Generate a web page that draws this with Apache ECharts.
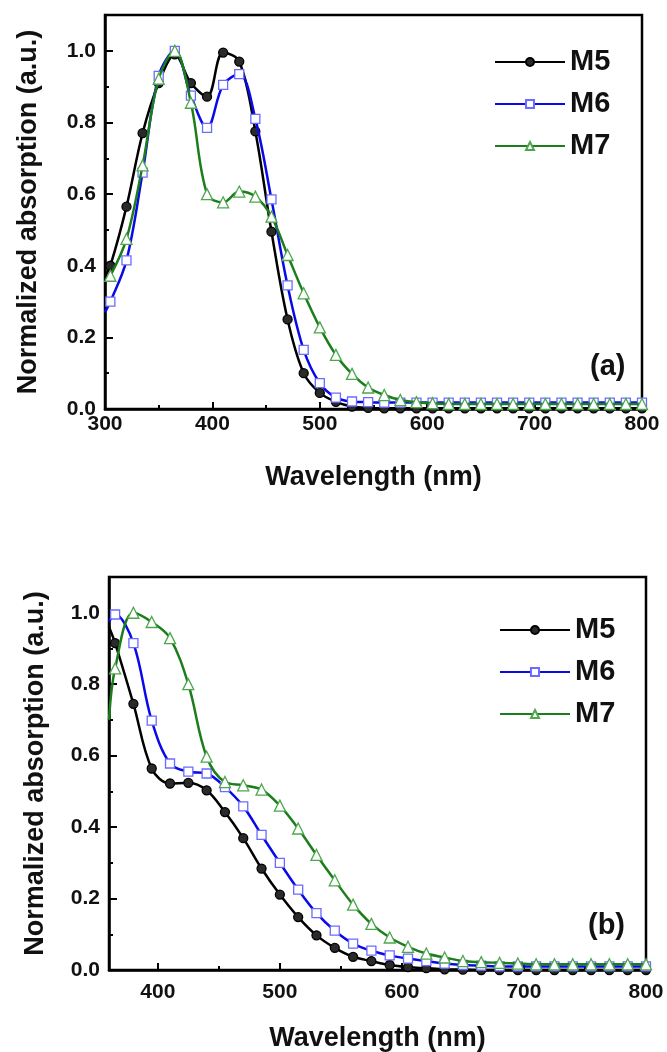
<!DOCTYPE html>
<html>
<head>
<meta charset="utf-8">
<script src="https://cdn.jsdelivr.net/npm/echarts@6/dist/echarts.min.js"></script>
<style>
html,body{margin:0;padding:0;background:#fff;}
#main{width:667px;height:1052px;}
</style>
</head>
<body>
<div id="main"></div>
<script>
// ---------- DATA ----------
const seriesNames = ['M5', 'M6', 'M7'];
const xTicks = [300, 400, 500, 600, 700, 800];
const xTicksB = [400, 500, 600, 700, 800];
const xMinorA = [350, 450, 550, 650, 750];
const xMinorB = [450, 550, 650, 750];
const yTicks = [0, 0.2, 0.4, 0.6, 0.8, 1.0];
const yMinor = [0.1, 0.3, 0.5, 0.7, 0.9];

// (a) wavelengths
const wlA = [300, 305, 320, 335, 350, 365, 380, 395, 410, 425, 440, 455, 470, 485, 500, 515, 530, 545,
  560, 575, 590, 605, 620, 635, 650, 665, 680, 695, 710, 725, 740, 755, 770, 785, 800];
const m5A = [0.37, 0.40, 0.565, 0.77, 0.91, 0.99, 0.91, 0.872, 0.995, 0.97, 0.775, 0.495, 0.25, 0.10, 0.045, 0.02, 0.007, 0.003,
  0.002, 0.002, 0.002, 0.002, 0.002, 0.002, 0.002, 0.002, 0.002, 0.002, 0.002, 0.002, 0.002, 0.002, 0.002, 0.002, 0.002];
const m6A = [0.27, 0.30, 0.415, 0.66, 0.93, 1.0, 0.875, 0.785, 0.905, 0.935, 0.81, 0.585, 0.345, 0.165, 0.072, 0.032, 0.021, 0.019,
  0.018, 0.018, 0.018, 0.018, 0.018, 0.018, 0.018, 0.018, 0.018, 0.018, 0.018, 0.018, 0.018, 0.018, 0.018, 0.018, 0.018];
const m7A = [0.36, 0.372, 0.475, 0.68, 0.922, 1.0, 0.855, 0.60, 0.577, 0.607, 0.593, 0.537, 0.43, 0.323, 0.228, 0.151, 0.098, 0.06,
  0.039, 0.025, 0.019, 0.016, 0.014, 0.014, 0.014, 0.014, 0.014, 0.014, 0.014, 0.014, 0.014, 0.014, 0.014, 0.014, 0.014];

// (b) wavelengths
const wlB = [360, 365, 380, 395, 410, 425, 440, 455, 470, 485, 500, 515, 530, 545, 560, 575, 590, 605, 620, 635,
  650, 665, 680, 695, 710, 725, 740, 755, 770, 785, 800];
const m5B = [0.96, 0.915, 0.745, 0.564, 0.522, 0.524, 0.503, 0.442, 0.369, 0.284, 0.211, 0.148, 0.097, 0.062, 0.037, 0.025, 0.014, 0.008, 0.005, 0.002,
  0.001, 0.0, 0.0, 0.0, 0.0, 0.0, 0.0, 0.0, 0.0, 0.0, 0.0];
const m6B = [0.975, 0.995, 0.915, 0.698, 0.578, 0.555, 0.55, 0.512, 0.458, 0.378, 0.30, 0.225, 0.159, 0.11, 0.074, 0.054, 0.041, 0.032, 0.025, 0.018,
  0.014, 0.012, 0.01, 0.01, 0.01, 0.01, 0.01, 0.01, 0.01, 0.01, 0.01];
const m7B = [0.70, 0.844, 1.0, 0.974, 0.929, 0.80, 0.597, 0.526, 0.517, 0.505, 0.46, 0.396, 0.322, 0.251, 0.183, 0.129, 0.091, 0.065, 0.046, 0.035,
  0.025, 0.022, 0.02, 0.018, 0.016, 0.016, 0.016, 0.016, 0.016, 0.016, 0.016];

// ---------- STYLE ----------
const FONT = 'Liberation Sans, Arial, sans-serif';
const styles = [
  { line: '#000000', symbol: 'circle', fill: '#2a2a2a', border: '#000000', size: 9 },
  { line: '#0a0ae8', symbol: 'rect', fill: '#ffffff', border: '#6b6bff', size: 9 },
  { line: '#1b7d1b', symbol: 'triangle', fill: '#ffffff', border: '#4ea64e', size: 11 }
];

function pts(wl, vals) {
  return wl.map((w, i) => i === 0 ? { value: [w, vals[i]], symbol: 'none' } : [w, vals[i]]);
}
function mkSeries(name, idx, wl, vals, gi) {
  const s = styles[idx];
  return {
    name: name, type: 'line', xAxisIndex: gi * 2, yAxisIndex: gi * 2,
    data: pts(wl, vals), smooth: 0.35, showAllSymbol: true,
    symbol: s.symbol, symbolSize: s.size, clip: true,
    lineStyle: { color: s.line, width: 2.5 },
    itemStyle: { color: s.fill, borderColor: s.border, borderWidth: 1.3 },
    z: 3 + idx, emphasis: { disabled: true }, animation: false
  };
}

function mainX(gi, min, ticks, margin) {
  return {
    type: 'value', gridIndex: gi, min: min, max: 800, position: 'bottom',
    name: 'Wavelength (nm)', nameLocation: 'middle', nameGap: 55,
    nameTextStyle: { fontFamily: FONT, fontWeight: 'bold', fontSize: 27, color: '#111' },
    axisLine: { show: true, onZero: false, lineStyle: { color: '#000', width: 2.5 } },
    axisTick: { show: true, inside: true, length: 7, customValues: ticks, lineStyle: { color: '#000', width: 2 } },
    axisLabel: { show: true, customValues: ticks, margin: margin, fontFamily: FONT, fontWeight: 'bold', fontSize: 21, color: '#111',
      formatter: v => String(Math.round(v)) },
    splitLine: { show: false }
  };
}
function minorX(gi, min, ticks) {
  return {
    type: 'value', gridIndex: gi, min: min, max: 800, position: 'bottom',
    axisLine: { show: false, onZero: false }, axisLabel: { show: false }, splitLine: { show: false },
    axisTick: { show: true, inside: true, length: 4, customValues: ticks, lineStyle: { color: '#000', width: 2 } }
  };
}
function mainY(gi, nameGap) {
  return {
    type: 'value', gridIndex: gi, min: 0, max: 1.1, position: 'left',
    name: 'Normalized absorption (a.u.)', nameLocation: 'middle', nameGap: nameGap,
    nameTextStyle: { fontFamily: FONT, fontWeight: 'bold', fontSize: 27, color: '#111' },
    axisLine: { show: true, onZero: false, lineStyle: { color: '#000', width: 2.5 } },
    axisTick: { show: true, inside: true, length: 8, customValues: yTicks, lineStyle: { color: '#000', width: 2 } },
    axisLabel: { show: true, customValues: yTicks, margin: 9, fontFamily: FONT, fontWeight: 'bold', fontSize: 21, color: '#111',
      formatter: v => v.toFixed(1) },
    splitLine: { show: false }
  };
}
function minorY(gi) {
  return {
    type: 'value', gridIndex: gi, min: 0, max: 1.1, position: 'left',
    axisLine: { show: false, onZero: false }, axisLabel: { show: false }, splitLine: { show: false },
    axisTick: { show: true, inside: true, length: 4, customValues: yMinor, lineStyle: { color: '#000', width: 2 } }
  };
}
function legend(left, top) {
  return {
    data: seriesNames, orient: 'vertical', left: left, top: top,
    itemWidth: 70, itemHeight: 10, itemGap: 12, selectedMode: false,
    textStyle: { fontFamily: FONT, fontWeight: 'bold', fontSize: 29, color: '#111', lineHeight: 30 }
  };
}

const chart = echarts.init(document.getElementById('main'), null, { renderer: 'canvas' });
const option = {
  backgroundColor: '#ffffff',
  animation: false,
  grid: [
    { left: 105, top: 15, width: 537, height: 394, show: true, borderColor: '#000', borderWidth: 2.5, backgroundColor: 'transparent', containLabel: false, outerBoundsMode: 'none' },
    { left: 109, top: 577, width: 537, height: 393, show: true, borderColor: '#000', borderWidth: 2.5, backgroundColor: 'transparent', containLabel: false, outerBoundsMode: 'none' }
  ],
  xAxis: [mainX(0, 300, xTicks, 5), minorX(0, 300, xMinorA), mainX(1, 360, xTicksB, 12), minorX(1, 360, xMinorB)],
  yAxis: [mainY(0, 63), minorY(0), mainY(1, 60), minorY(1)],
  legend: [legend(489, 42), legend(494, 610)],
  graphic: [
    { type: 'text', left: 590, top: 352, style: { text: '(a)', font: 'bold 29px ' + FONT, fill: '#111' } },
    { type: 'text', left: 588, top: 911, style: { text: '(b)', font: 'bold 29px ' + FONT, fill: '#111' } }
  ],
  series: [
    mkSeries('M5', 0, wlA, m5A, 0),
    mkSeries('M6', 1, wlA, m6A, 0),
    mkSeries('M7', 2, wlA, m7A, 0),
    mkSeries('M5', 0, wlB, m5B, 1),
    mkSeries('M6', 1, wlB, m6B, 1),
    mkSeries('M7', 2, wlB, m7B, 1)
  ]
};
chart.setOption(option);
</script>
</body>
</html>
